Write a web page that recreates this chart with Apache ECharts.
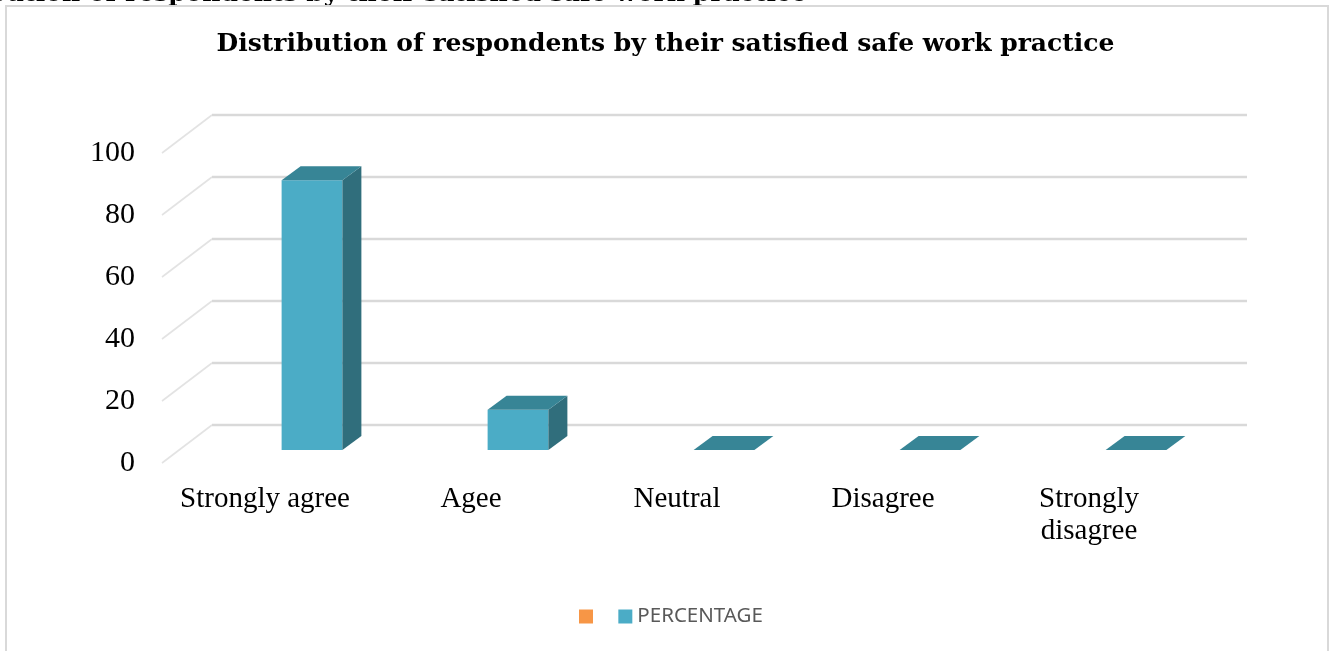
<!DOCTYPE html>
<html>
<head>
<meta charset="utf-8">
<script src="https://cdn.jsdelivr.net/npm/echarts@6/dist/echarts.min.js"></script>
<style>
  html, body { margin: 0; padding: 0; background: #fff; }
  #chart { width: 1331px; height: 651px; }
</style>
</head>
<body>
<div id="chart"></div>
<script>
// Satisfaction with safe work practice, in percent of respondents
const categories = ['Strongly agree', 'Agee', 'Neutral', 'Disagree', 'Strongly disagree'];
const percentage = [87, 13, 0, 0, 0];
const yTicks = [0, 20, 40, 60, 80, 100];

// Oblique projection used for the 3-D look (pixels)
const WALL_DX = 50, WALL_DY = -38;     // depth of the back wall
const FACE_DX = 47, FACE_DY = -13;     // where the column front faces sit
const COL_DX = 19, COL_DY = -14;       // column depth
const COL_WIDTH = 0.295;               // column width as a share of a category band

const chart = echarts.init(document.getElementById('chart'), null, { renderer: 'canvas' });

function renderWall(params, api) {
  const v = api.value(0);
  const y = api.coord([0, v])[1];
  const cs = params.coordSys;
  const x0 = cs.x;
  const x1 = cs.x + cs.width + WALL_DX + 5;
  return {
    type: 'group',
    children: [
      {
        type: 'line',
        shape: { x1: x0, y1: y, x2: x0 + WALL_DX, y2: y + WALL_DY },
        style: { stroke: '#E3E3E3', lineWidth: 1.6 }
      },
      {
        type: 'line',
        shape: { x1: x0 + WALL_DX, y1: y + WALL_DY, x2: x1, y2: y + WALL_DY },
        style: { stroke: '#D9D9D9', lineWidth: 2.4 }
      }
    ]
  };
}

function renderColumn(params, api) {
  const idx = api.value(0);
  const val = api.value(1);
  const base = api.coord([idx, 0]);
  const top = api.coord([idx, val]);
  const band = api.size([1, 0])[0];
  const w = band * COL_WIDTH;
  const xl = base[0] + FACE_DX - w / 2;
  const xr = xl + w;
  const yb = base[1] + FACE_DY;
  const yt = top[1] + FACE_DY;
  const children = [];
  if (yb - yt > 0.5) {
    children.push({
      type: 'rect',
      shape: { x: xl, y: yt, width: w, height: yb - yt },
      style: { fill: '#4BACC6' }
    });
    children.push({
      type: 'polygon',
      shape: { points: [[xr, yt], [xr + COL_DX, yt + COL_DY], [xr + COL_DX, yb + COL_DY], [xr, yb]] },
      style: { fill: '#306E7C' }
    });
  }
  children.push({
    type: 'polygon',
    shape: { points: [[xl, yt], [xr, yt], [xr + COL_DX, yt + COL_DY], [xl + COL_DX, yt + COL_DY]] },
    style: { fill: '#378596' }
  });
  return { type: 'group', children: children };
}

const option = {
  backgroundColor: '#ffffff',
  animation: false,
  title: {
    text: 'Distribution of respondents by their satisfied safe work practice',
    left: 'center',
    top: 27,
    textStyle: {
      fontFamily: 'DejaVu Serif',
      fontWeight: 'bold',
      fontSize: 25,
      color: '#000000'
    }
  },
  legend: {
    data: [{ name: ' ' }, { name: 'PERCENTAGE' }],
    left: 574,
    top: 601,
    icon: 'rect',
    itemWidth: 14,
    itemHeight: 14,
    itemGap: 15,
    textStyle: { fontFamily: 'Noto Sans', fontSize: 20.5, color: '#595959' }
  },
  grid: { left: 162, right: 139, top: 153, bottom: 188, containLabel: false },
  xAxis: {
    type: 'category',
    data: categories,
    axisLine: { show: false },
    axisTick: { show: false },
    axisLabel: {
      interval: 0,
      margin: 20,
      fontFamily: 'Liberation Serif',
      fontSize: 29,
      color: '#000000',
      lineHeight: 32,
      // long labels wrap onto two lines
      formatter: v => (v.length > 15 ? v.replace(' ', '\n') : v)
    }
  },
  yAxis: {
    type: 'value',
    min: 0,
    max: 100,
    interval: 20,
    axisLine: { show: false },
    axisTick: { show: false },
    splitLine: { show: false },
    axisLabel: {
      margin: 27,
      fontFamily: 'Liberation Serif',
      fontSize: 30,
      color: '#000000'
    }
  },
  series: [
    {
      name: 'wall',
      type: 'custom',
      renderItem: renderWall,
      data: yTicks.map(t => [t]),
      encode: { y: 0 },
      silent: true,
      z: 1
    },
    {
      name: ' ',
      type: 'custom',
      renderItem: renderColumn,
      itemStyle: { color: '#F79646' },
      data: [],
      z: 2
    },
    {
      name: 'PERCENTAGE',
      type: 'custom',
      renderItem: renderColumn,
      itemStyle: { color: '#4BACC6' },
      data: percentage.map((v, i) => [i, v]),
      encode: { x: 0, y: 1 },
      z: 3
    }
  ],
  graphic: [
    {
      type: 'text',
      z: 0,
      style: {
        x: 807,
        y: 7,
        align: 'right',
        verticalAlign: 'bottom',
        text: 'Table 4: Distribution of respondents by their satisfied safe work practice',
        fontFamily: 'DejaVu Serif',
        fontWeight: 'bold',
        fontSize: 25,
        fill: '#000000'
      }
    },
    {
      type: 'rect',
      z: 10,
      shape: { x: 6, y: 6, width: 1322, height: 680 },
      style: { fill: null, stroke: '#D9D9D9', lineWidth: 2 }
    }
  ]
};

chart.setOption(option);
</script>
</body>
</html>
